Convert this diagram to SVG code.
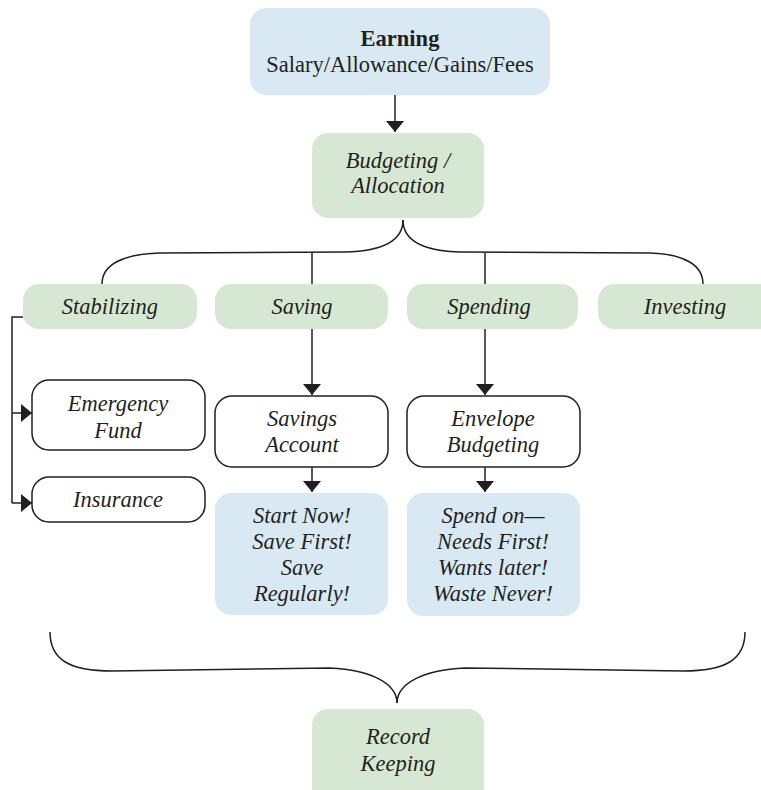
<svg xmlns="http://www.w3.org/2000/svg" width="761" height="790" viewBox="0 0 761 790">
<style>
.blue{fill:#d8e9f4;}
.green{fill:#d6e8d3;}
.white{fill:#ffffff;stroke:#231f20;stroke-width:1.5;}
text{font-family:"Liberation Serif","Times New Roman",serif;font-size:22.5px;fill:#231f20;text-anchor:middle;}
.it{font-style:italic;}
.b{font-weight:bold;}
.ln{fill:none;stroke:#231f20;stroke-width:1.5;}
.ar{fill:none;stroke:#231f20;stroke-width:1.5;marker-end:url(#ah);}
</style>
<defs>
<marker id="ah" viewBox="0 0 11 18" refX="11" refY="9" markerWidth="11" markerHeight="18" markerUnits="userSpaceOnUse" orient="auto">
<path d="M0,0 L11,9 L0,18 Z" fill="#231f20"/>
</marker>
</defs>
<g id="connectors">
<line class="ar" x1="395" y1="95" x2="395" y2="132"/>
<path class="ln" d="M403,220 C403,240 385,251 345,252 L160,253 C122,254 102,265 102,284"/>
<path class="ln" d="M403,220 C403,240 421,251 461,252 L650,253 C684,254 703,265 703,284"/>
<line class="ln" x1="312" y1="253" x2="312" y2="284"/>
<line class="ln" x1="485" y1="253" x2="485" y2="284"/>
<polyline class="ln" points="23,317 12,317 12,503"/>
<line class="ar" x1="12" y1="413" x2="32" y2="413"/>
<line class="ar" x1="12" y1="503" x2="32" y2="503"/>
<line class="ar" x1="312" y1="329" x2="312" y2="395"/>
<line class="ar" x1="312" y1="467" x2="312" y2="492"/>
<line class="ar" x1="485" y1="329" x2="485" y2="395"/>
<line class="ar" x1="485" y1="467" x2="485" y2="492"/>
<path class="ln" d="M50,632 C50,660 70,671 112,671 L330,668 C372,670 397,684 397,703"/>
<path class="ln" d="M745,632 C745,660 725,671 683,671 L465,668 C422,670 397,684 397,703"/>
</g>
<g id="earning">
<rect class="blue" x="250" y="8" width="300" height="87" rx="16"/>
<text class="b" x="400" y="46">Earning</text>
<text x="400" y="72">Salary/Allowance/Gains/Fees</text>
</g>
<g id="budgeting">
<rect class="green" x="312" y="133" width="172" height="85" rx="16"/>
<text class="it" x="398" y="168">Budgeting /</text>
<text class="it" x="398" y="193">Allocation</text>
</g>
<g id="stabilizing">
<rect class="green" x="23" y="284" width="174" height="45" rx="16"/>
<text class="it" x="110" y="314">Stabilizing</text>
</g>
<g id="saving">
<rect class="green" x="215" y="284" width="173" height="45" rx="16"/>
<text class="it" x="302" y="314">Saving</text>
</g>
<g id="spending">
<rect class="green" x="407" y="284" width="171" height="45" rx="16"/>
<text class="it" x="489" y="314">Spending</text>
</g>
<g id="investing">
<rect class="green" x="598" y="284" width="180" height="45" rx="16"/>
<text class="it" x="685" y="314">Investing</text>
</g>
<g id="emergency">
<rect class="white" x="32" y="380" width="173" height="70" rx="17"/>
<text class="it" x="118" y="411">Emergency</text>
<text class="it" x="118" y="438">Fund</text>
</g>
<g id="insurance">
<rect class="white" x="32" y="477" width="173" height="45" rx="17"/>
<text class="it" x="118" y="507">Insurance</text>
</g>
<g id="savings-account">
<rect class="white" x="215" y="396" width="173" height="71" rx="17"/>
<text class="it" x="302" y="426">Savings</text>
<text class="it" x="302" y="452">Account</text>
</g>
<g id="envelope">
<rect class="white" x="407" y="396" width="173" height="71" rx="17"/>
<text class="it" x="493" y="426">Envelope</text>
<text class="it" x="493" y="452">Budgeting</text>
</g>
<g id="save-tips">
<rect class="blue" x="215" y="493" width="173" height="122" rx="16"/>
<text class="it" x="302" y="523">Start Now!</text>
<text class="it" x="302" y="549">Save First!</text>
<text class="it" x="302" y="575">Save</text>
<text class="it" x="302" y="601">Regularly!</text>
</g>
<g id="spend-tips">
<rect class="blue" x="407" y="493" width="173" height="123" rx="16"/>
<text class="it" x="493" y="523">Spend on—</text>
<text class="it" x="493" y="549">Needs First!</text>
<text class="it" x="493" y="575">Wants later!</text>
<text class="it" x="493" y="601">Waste Never!</text>
</g>
<g id="record-keeping">
<rect class="green" x="312" y="709" width="172" height="95" rx="16"/>
<text class="it" x="398" y="744">Record</text>
<text class="it" x="398" y="771">Keeping</text>
</g>
</svg>
